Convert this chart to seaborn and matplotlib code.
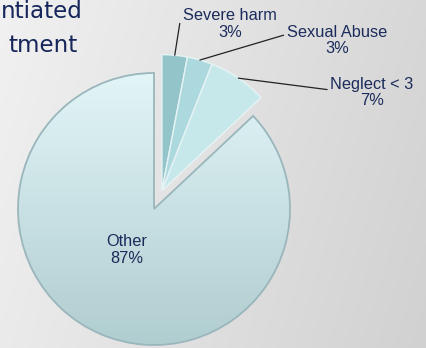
import numpy as np
import matplotlib
matplotlib.use("Agg")
import matplotlib.pyplot as plt
import seaborn as sns

# Case outcome shares (percent)
categories = ["Severe harm", "Sexual Abuse", "Neglect < 3", "Other"]
shares = [3, 3, 7, 87]
pct_labels = ["3%", "3%", "7%", "87%"]
slice_colors = ["#93c4c9", "#acd9dd", "#c6e8eb", "#d4ecee"]
heading_lines = ["ntiated", "tment"]

sns.set_theme(style="white")
plt.rcParams["font.family"] = ["Liberation Sans", "DejaVu Sans"]

W, H = 426, 348
fig = plt.figure(figsize=(W / 100, H / 100), dpi=100)
ax = fig.add_axes([0, 0, 1, 1])

# soft grey backdrop, lighter on the left
xs = np.linspace(0, 1, 200)
ys = np.linspace(0, 1, 160)
XX, YY = np.meshgrid(xs, ys)
shade = 0.945 - 0.10 * XX - 0.025 * YY
bg = np.dstack([shade, shade, shade])
ax.imshow(bg, extent=(0, W, 0, H), origin="upper", aspect="auto", zorder=0)

cx, cy, R = 154, H - 209, 136
wedges, _ = ax.pie(
    shares, radius=R, center=(cx, cy), startangle=90, counterclock=False,
    colors=slice_colors, frame=True,
    wedgeprops=dict(edgecolor="#e6f3f4", linewidth=1.0),
)

# pull the three small categories out together along their shared bisector
small_total = sum(shares[:3])
group_mid = np.deg2rad(90 - 360 * small_total / 100 / 2)
pull = 20
gx, gy = cx + pull * np.cos(group_mid), cy + pull * np.sin(group_mid)
for w in wedges[:3]:
    w.set_center((gx, gy))
    w.set_zorder(3)

# gradient fill for the large slice
other = wedges[3]
other.set_facecolor("none")
other.set_edgecolor("#9ab6bc")
other.set_linewidth(1.3)
other.set_zorder(3)
grad = np.linspace(0, 1, 256)[:, None]
top = np.array([0.886, 0.961, 0.969])
bot = np.array([0.690, 0.804, 0.816])
fill = top[None, None, :] * (1 - grad[..., None]) + bot[None, None, :] * grad[..., None]
fill = np.repeat(fill, 4, axis=1)
img = ax.imshow(fill, extent=(cx - R, cx + R, cy - R, cy + R), origin="upper",
                aspect="auto", zorder=2)
img.set_clip_path(other)

ax.set_xlim(0, W)
ax.set_ylim(0, H)
ax.set_aspect("equal")
ax.axis("off")

label_color = "#1b2b5b"
label_pos = [(230, H - 24), (337, H - 40.5), (372, H - 92.5)]
rel_pos = [(0.0, 0.58), (0.0, 0.7), (0.0, 0.58)]
conn = ["angle,angleA=180,angleB=81,rad=0", "arc3,rad=0", "arc3,rad=0"]
cum = 0
for i, (name, pct) in enumerate(zip(categories, pct_labels)):
    mid = np.deg2rad(90 - 360 * (cum + shares[i] / 2) / 100)
    cum += shares[i]
    if i < 3:
        px, py = gx + R * np.cos(mid), gy + R * np.sin(mid)
        ax.annotate(
            f"{name}\n{pct}", xy=(px, py), xytext=label_pos[i],
            ha="center", va="center", fontsize=11.8, color=label_color,
            linespacing=1.12, zorder=5,
            arrowprops=dict(arrowstyle="-", color="#222222", lw=0.9,
                            shrinkA=0, shrinkB=0, relpos=rel_pos[i],
                            connectionstyle=conn[i]),
        )
    else:
        ax.text(127, H - 250, f"{name}\n{pct}", ha="center", va="center",
                fontsize=11.8, color=label_color, linespacing=1.12, zorder=5)

# heading fragment at the top-left
ax.text(83, H - 18, heading_lines[0], ha="right", va="baseline",
        fontsize=16.6, color="#16265a", family="DejaVu Sans", zorder=5)
ax.text(78, H - 52, heading_lines[1], ha="right", va="baseline",
        fontsize=16.6, color="#16265a", family="DejaVu Sans", zorder=5)

fig.savefig("out.png", dpi=100)
